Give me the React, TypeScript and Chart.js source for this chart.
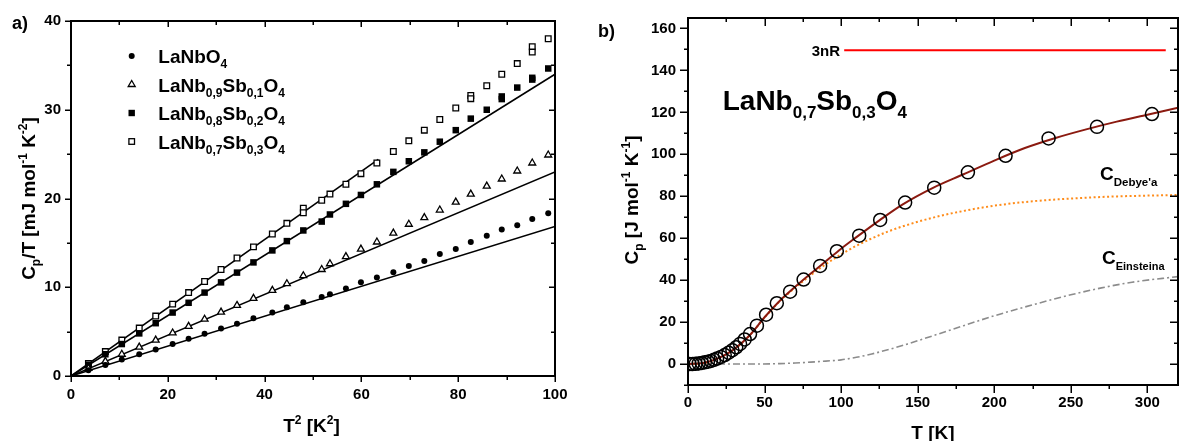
import React, { useEffect, useRef } from 'react';
import { Chart, registerables } from 'chart.js';

Chart.register(...registerables);

const FONT = "'Liberation Sans', Arial, Helvetica, sans-serif";

// ---------- Panel a) : Cp/T vs T^2 ----------
const t2Points = [3.6, 7.1, 10.5, 14.1, 17.5, 21.0, 24.3, 27.6, 31.0, 34.3, 37.7, 41.6, 44.6, 48.0, 51.8, 53.5, 56.8, 59.9, 63.2, 66.6, 69.8, 73.0, 76.2, 79.5, 82.6, 85.9, 89.0, 92.2, 95.3, 98.6];
const cpLaNbO4 = [0.65, 1.25, 1.85, 2.45, 3.0, 3.6, 4.2, 4.75, 5.35, 5.9, 6.5, 7.15, 7.75, 8.3, 8.9, 9.2, 9.85, 10.55, 11.1, 11.7, 12.4, 12.95, 13.75, 14.3, 15.1, 15.8, 16.5, 17.0, 17.7, 18.35];
const cpSb01 = [0.85, 1.65, 2.45, 3.25, 4.05, 4.85, 5.6, 6.4, 7.2, 7.95, 8.75, 9.65, 10.4, 11.3, 12.0, 12.65, 13.45, 14.3, 15.1, 16.1, 17.1, 17.85, 18.7, 19.6, 20.5, 21.4, 22.2, 23.1, 24.0, 24.9];
const cpSb02 = [1.25, 2.45, 3.6, 4.8, 5.95, 7.15, 8.25, 9.4, 10.55, 11.65, 12.8, 14.15, 15.2, 16.4, 17.4, 18.2, 19.4, 20.4, 21.6, 23.0, 24.2, 25.2, 26.4, 27.7, 29.0, 30.0, 31.5, 32.5, 33.6, 34.65];
const cpSb03 = [1.4, 2.75, 4.05, 5.4, 6.75, 8.1, 9.4, 10.65, 12.0, 13.3, 14.55, 16.0, 17.2, 18.9, 19.8, 20.5, 21.6, 22.8, 24.0, 25.3, 26.5, 27.7, 28.9, 30.2, 31.6, 32.7, 34.0, 35.2, 37.1, 38.0];
const t2ExtraSb02 = [89.0, 95.3];
const cpExtraSb02 = [31.2, 33.4];
const t2ExtraSb03 = [48.0, 82.6, 95.3];
const cpExtraSb03 = [18.4, 31.25, 36.5];

const t2FitEnds = [0, 100];
const fitLaNbO4 = [0, 16.85];
const fitSb01 = [0, 23.0];
const fitSb02 = [0, 34.0];
const t2FitSb03 = [0, 63.5];
const fitSb03 = [0, 24.4];

// ---------- Panel b) : Cp vs T ----------
const tMeasured = [1, 3, 5, 7, 9, 11, 13, 15, 17, 19, 21.5, 24, 26.5, 29, 31.5, 34, 37, 40.5, 45, 51, 58, 66.7, 75.5, 86.3, 97.2, 111.8, 125.5, 141.8, 160.8, 182.8, 207.4, 235.5, 267.1, 303];
const cpMeasured = [0, 0, 0.1, 0.3, 0.5, 0.8, 1.1, 1.5, 2.0, 2.6, 3.4, 4.3, 5.4, 6.6, 8.0, 9.6, 11.7, 14.3, 18.3, 23.5, 29.0, 34.5, 40.3, 46.8, 53.8, 61.2, 68.7, 77.0, 84.1, 91.4, 99.3, 107.6, 113.1, 119.2];

const tFit = [0, 10, 20, 30, 40, 50, 60, 70, 80, 90, 100, 110, 125, 140, 160, 180, 200, 220, 240, 260, 280, 300, 320];
const cpFit = [0, 0.5, 2.8, 7.0, 13.5, 22.3, 30.2, 36.8, 43.0, 49.0, 55.0, 60.5, 68.5, 76.0, 84.0, 90.5, 97.0, 103.0, 107.8, 111.9, 115.6, 118.9, 122.2];

const tDebye = [0, 10, 20, 30, 40, 50, 60, 70, 80, 90, 100, 110, 120, 130, 140, 160, 180, 200, 225, 250, 275, 300, 320];
const cpDebye = [0, 0.5, 2.8, 7.0, 13.5, 22.2, 30.0, 36.4, 42.3, 47.6, 52.3, 56.4, 59.9, 63.0, 65.6, 69.8, 73.0, 75.5, 77.6, 78.9, 79.8, 80.3, 80.6];

const tEinstein = [0, 20, 40, 60, 70, 80, 90, 100, 110, 120, 140, 160, 180, 200, 225, 250, 270, 290, 320];
const cpEinstein = [0, 0, 0, 0.2, 0.5, 0.9, 1.4, 2.0, 3.2, 4.8, 8.8, 13.5, 18.3, 23.0, 28.2, 33.0, 36.3, 39.0, 41.7];

const t3nR = [102, 312];
const cp3nR = [149.65, 149.65];

const zip = (xs: number[], ys: number[]) => xs.map((x, i) => ({ x, y: ys[i] }));

type Seg = { t: string; size: number; dy?: number };

function drawRich(ctx: CanvasRenderingContext2D, segs: Seg[], x: number, y: number, align: 'left' | 'center' | 'right') {
  const widths = segs.map((s) => {
    ctx.font = `bold ${s.size}px ${FONT}`;
    return ctx.measureText(s.t).width;
  });
  const total = widths.reduce((a, b) => a + b, 0);
  let cx = align === 'left' ? x : align === 'center' ? x - total / 2 : x - total;
  ctx.textAlign = 'left';
  ctx.textBaseline = 'alphabetic';
  ctx.fillStyle = '#000';
  segs.forEach((s, i) => {
    ctx.font = `bold ${s.size}px ${FONT}`;
    ctx.fillText(s.t, cx, y + (s.dy || 0));
    cx += widths[i];
  });
}

function drawRotated(ctx: CanvasRenderingContext2D, segs: Seg[], x: number, y: number) {
  ctx.save();
  ctx.translate(x, y);
  ctx.rotate(-Math.PI / 2);
  drawRich(ctx, segs, 0, 0, 'center');
  ctx.restore();
}

type FrameOpts = {
  id: string;
  xMin: number; xMax: number; xMinor: number; xMajor: number;
  yMin: number; yMax: number; yMinor: number; yMajor: number;
  majLen: number; minLen: number;
  ox: number; oy: number;
  draw: (ctx: CanvasRenderingContext2D, P: (x: number, y: number) => [number, number]) => void;
};

function framePlugin(o: FrameOpts) {
  return {
    id: 'frame_' + o.id,
    afterDraw(chart: any) {
      const { ctx, chartArea } = chart;
      const { left, right, top, bottom } = chartArea;
      const xs = chart.scales.x;
      const ys = chart.scales.y;
      ctx.save();
      ctx.strokeStyle = '#000';
      ctx.lineWidth = 1.5;
      const seg = (x1: number, y1: number, x2: number, y2: number) => {
        ctx.beginPath();
        ctx.moveTo(x1, y1);
        ctx.lineTo(x2, y2);
        ctx.stroke();
      };
      const isMaj = (v: number, step: number) => Math.abs(v / step - Math.round(v / step)) < 1e-6;
      for (let v = o.xMin; v <= o.xMax + 1e-9; v += o.xMinor) {
        const px = Math.round(xs.getPixelForValue(v)) + 0.25;
        const len = isMaj(v, o.xMajor) ? o.majLen : o.minLen;
        seg(px, bottom, px, bottom + len);
        seg(px, top, px, top + len);
      }
      for (let v = o.yMin; v <= o.yMax + 1e-9; v += o.yMinor) {
        const py = Math.round(ys.getPixelForValue(v)) + 0.25;
        const len = isMaj(v, o.yMajor) ? o.majLen : o.minLen;
        seg(left, py, left - len, py);
        seg(right, py, right - len, py);
      }
      ctx.lineWidth = 2;
      ctx.strokeRect(left, top, right - left, bottom - top);
      const P = (x: number, y: number): [number, number] => [x - o.ox, y - o.oy];
      o.draw(ctx, P);
      ctx.restore();
    },
  };
}

const tickFont = { size: 15, weight: 'bold' as const, family: FONT };

function leftConfig(): any {
  const scatter = (data: any, style: any) => ({ data, showLine: false, ...style });
  const fit = (data: any) => ({ data, showLine: true, pointRadius: 0, borderColor: '#000', borderWidth: 1.6, backgroundColor: '#000' });
  return {
    type: 'scatter',
    data: {
      datasets: [
        scatter(zip(t2Points, cpLaNbO4), { pointStyle: 'circle', pointRadius: 3, backgroundColor: '#000', borderColor: '#000', borderWidth: 0 }),
        scatter(zip(t2Points, cpSb01), { pointStyle: 'triangle', pointRadius: 4, backgroundColor: '#fff', borderColor: '#000', borderWidth: 1.3 }),
        scatter(zip([...t2Points, ...t2ExtraSb02], [...cpSb02, ...cpExtraSb02]), { pointStyle: 'rect', pointRadius: 4.6, backgroundColor: '#000', borderColor: '#000', borderWidth: 0 }),
        scatter(zip([...t2Points, ...t2ExtraSb03], [...cpSb03, ...cpExtraSb03]), { pointStyle: 'rect', pointRadius: 4, backgroundColor: '#fff', borderColor: '#000', borderWidth: 1.3 }),
        fit(zip(t2FitEnds, fitLaNbO4)),
        fit(zip(t2FitEnds, fitSb01)),
        fit(zip(t2FitEnds, fitSb02)),
        fit(zip(t2FitSb03, fitSb03)),
      ],
    },
    options: {
      responsive: false,
      animation: false,
      layout: { padding: { left: 0, right: 35, top: 41, bottom: 0 } },
      plugins: { legend: { display: false }, tooltip: { enabled: false } },
      scales: {
        x: {
          type: 'linear', min: 0, max: 100,
          grid: { display: false, drawTicks: false }, border: { display: false },
          ticks: { stepSize: 20, padding: 10, font: tickFont, color: '#000', maxRotation: 0 },
          afterFit: (s: any) => { s.height = 65; },
        },
        y: {
          type: 'linear', min: 0, max: 40,
          grid: { display: false, drawTicks: false }, border: { display: false },
          ticks: { stepSize: 10, padding: 10, font: tickFont, color: '#000' },
          afterFit: (s: any) => { s.width = 71; },
        },
      },
    },
    plugins: [
      framePlugin({
        id: 'a', xMin: 0, xMax: 100, xMinor: 10, xMajor: 20, yMin: 0, yMax: 40, yMinor: 5, yMajor: 10,
        majLen: 6, minLen: 4, ox: 0, oy: -20,
        draw: (ctx, P) => {
          let [x, y] = P(12, 29);
          drawRich(ctx, [{ t: 'a)', size: 18 }], x, y, 'left');
          const rows = [56, 84.5, 113, 141.5];
          const names: Seg[][] = [
            [{ t: 'LaNbO', size: 19 }, { t: '4', size: 12, dy: 5 }],
            [{ t: 'LaNb', size: 19 }, { t: '0,9', size: 12, dy: 5 }, { t: 'Sb', size: 19 }, { t: '0,1', size: 12, dy: 5 }, { t: 'O', size: 19 }, { t: '4', size: 12, dy: 5 }],
            [{ t: 'LaNb', size: 19 }, { t: '0,8', size: 12, dy: 5 }, { t: 'Sb', size: 19 }, { t: '0,2', size: 12, dy: 5 }, { t: 'O', size: 19 }, { t: '4', size: 12, dy: 5 }],
            [{ t: 'LaNb', size: 19 }, { t: '0,7', size: 12, dy: 5 }, { t: 'Sb', size: 19 }, { t: '0,3', size: 12, dy: 5 }, { t: 'O', size: 19 }, { t: '4', size: 12, dy: 5 }],
          ];
          rows.forEach((ry, i) => {
            const [mx, my] = P(131.7, ry);
            ctx.fillStyle = '#000';
            ctx.strokeStyle = '#000';
            ctx.lineWidth = 1.3;
            if (i === 0) {
              ctx.beginPath(); ctx.arc(mx, my, 3, 0, Math.PI * 2); ctx.fill();
            } else if (i === 1) {
              ctx.beginPath();
              ctx.moveTo(mx, my - 4); ctx.lineTo(mx + 3.5, my + 2); ctx.lineTo(mx - 3.5, my + 2); ctx.closePath();
              ctx.stroke();
            } else if (i === 2) {
              ctx.fillRect(mx - 3.2, my - 3.2, 6.4, 6.4);
            } else {
              ctx.strokeRect(mx - 2.8, my - 2.8, 5.6, 5.6);
            }
            const [tx, ty] = P(158.3, ry + 7);
            drawRich(ctx, names[i], tx, ty, 'left');
          });
          [x, y] = P(35, 198.5);
          drawRotated(ctx, [
            { t: 'C', size: 19 }, { t: 'p', size: 12, dy: 5 }, { t: '/T [mJ mol', size: 19 },
            { t: '-1', size: 12, dy: -8 }, { t: ' K', size: 19 }, { t: '-2', size: 12, dy: -8 }, { t: ']', size: 19 },
          ], x, y);
          [x, y] = P(311.5, 432);
          drawRich(ctx, [{ t: 'T', size: 19 }, { t: '2', size: 12, dy: -8 }, { t: ' [K', size: 19 }, { t: '2', size: 12, dy: -8 }, { t: ']', size: 19 }], x, y, 'center');
        },
      }),
    ],
  };
}

function rightConfig(): any {
  const curve = (data: any, style: any) => ({
    data, showLine: true, pointRadius: 0, tension: 0.4, cubicInterpolationMode: 'monotone', fill: false, ...style,
  });
  return {
    type: 'scatter',
    data: {
      datasets: [
        {
          data: zip(tMeasured, cpMeasured), showLine: false, pointStyle: 'circle', pointRadius: 6.5,
          backgroundColor: 'rgba(0,0,0,0)', borderColor: '#000', borderWidth: 1.5,
        },
        curve(zip(tFit, cpFit), { borderColor: '#8b1a10', borderWidth: 2 }),
        curve(zip(tDebye, cpDebye), { borderColor: '#ff8c1a', borderWidth: 2, borderDash: [2, 2.5] }),
        curve(zip(tEinstein, cpEinstein), { borderColor: '#8c8c8c', borderWidth: 1.6, borderDash: [7, 3, 2, 3] }),
        curve(zip(t3nR, cp3nR), { borderColor: '#ff0000', borderWidth: 2, tension: 0 }),
      ],
    },
    options: {
      responsive: false,
      animation: false,
      layout: { padding: { left: 0, right: 21, top: 38, bottom: 0 } },
      plugins: { legend: { display: false }, tooltip: { enabled: false } },
      scales: {
        x: {
          type: 'linear', min: 0, max: 320,
          grid: { display: false, drawTicks: false }, border: { display: false },
          ticks: { stepSize: 50, padding: 9, font: tickFont, color: '#000', maxRotation: 0, includeBounds: false },
          afterFit: (s: any) => { s.height = 56; },
        },
        y: {
          type: 'linear', min: -10, max: 165,
          grid: { display: false, drawTicks: false }, border: { display: false },
          ticks: { stepSize: 20, padding: 12, font: tickFont, color: '#000', includeBounds: false },
          afterFit: (s: any) => { s.width = 98; },
        },
      },
    },
    plugins: [
      framePlugin({
        id: 'b', xMin: 0, xMax: 320, xMinor: 25, xMajor: 50, yMin: -10, yMax: 165, yMinor: 10, yMajor: 20,
        majLen: 8, minLen: 4, ox: 590, oy: -20,
        draw: (ctx, P) => {
          let [x, y] = P(598, 37);
          drawRich(ctx, [{ t: 'b)', size: 18 }], x, y, 'left');
          [x, y] = P(840, 55.5);
          drawRich(ctx, [{ t: '3nR', size: 15 }], x, y, 'right');
          [x, y] = P(722.7, 110);
          drawRich(ctx, [
            { t: 'LaNb', size: 28 }, { t: '0,7', size: 17, dy: 8 }, { t: 'Sb', size: 28 },
            { t: '0,3', size: 17, dy: 8 }, { t: 'O', size: 28 }, { t: '4', size: 17, dy: 8 },
          ], x, y, 'left');
          [x, y] = P(1100, 180);
          drawRich(ctx, [{ t: 'C', size: 19 }, { t: "Debye'a", size: 11.5, dy: 6 }], x, y, 'left');
          [x, y] = P(1102, 263.5);
          drawRich(ctx, [{ t: 'C', size: 19 }, { t: 'Einsteina', size: 11, dy: 6 }], x, y, 'left');
          [x, y] = P(638, 200);
          drawRotated(ctx, [
            { t: 'C', size: 19 }, { t: 'p', size: 12, dy: 5 }, { t: ' [J mol', size: 19 },
            { t: '-1', size: 12, dy: -8 }, { t: ' K', size: 19 }, { t: '-1', size: 12, dy: -8 }, { t: ']', size: 19 },
          ], x, y);
          [x, y] = P(933, 438.5);
          drawRich(ctx, [{ t: 'T [K]', size: 19 }], x, y, 'center');
        },
      }),
    ],
  };
}

export default function App() {
  const leftRef = useRef<HTMLCanvasElement>(null);
  const rightRef = useRef<HTMLCanvasElement>(null);
  useEffect(() => {
    const c1 = new Chart(leftRef.current as HTMLCanvasElement, leftConfig());
    const c2 = new Chart(rightRef.current as HTMLCanvasElement, rightConfig());
    return () => {
      c1.destroy();
      c2.destroy();
    };
  }, []);
  return (
    <div style={{ position: 'absolute', left: 0, top: 0, width: 1179, height: 441, overflow: 'hidden', background: '#fff' }}>
      <canvas ref={leftRef} width={590} height={461} style={{ position: 'absolute', left: 0, top: -20, display: 'block' }} />
      <canvas ref={rightRef} width={609} height={461} style={{ position: 'absolute', left: 590, top: -20, display: 'block' }} />
    </div>
  );
}
